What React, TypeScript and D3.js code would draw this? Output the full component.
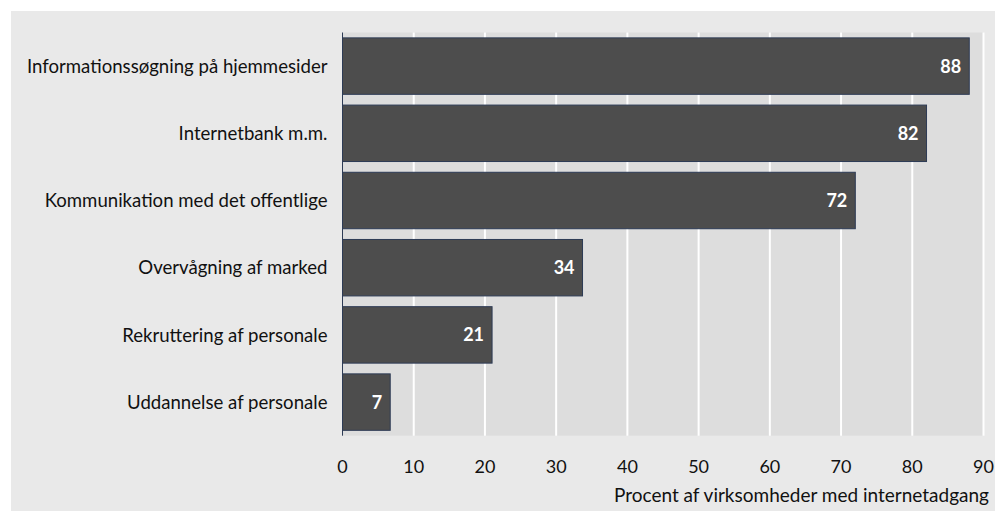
import React, { useEffect, useRef } from 'react';
import * as d3 from 'd3';

// categories and values (percent)
const categories = [
    "Informationssøgning på hjemmesider",
    "Internetbank m.m.",
    "Kommunikation med det offentlige",
    "Overvågning af marked",
    "Rekruttering af personale",
    "Uddannelse af personale",
];
const values = [88, 82, 72, 33.7, 21, 6.7];
const valueLabels = ["88", "82", "72", "34", "21", "7"];
const xTicks = [0, 10, 20, 30, 40, 50, 60, 70, 80, 90];
const xTitle = "Procent af virksomheder med internetadgang";

const App: React.FC = () => {
    const ref = useRef<SVGSVGElement | null>(null);

    useEffect(() => {
        if (!ref.current) return;
        const svg = d3.select(ref.current);
        svg.selectAll("*").remove();

        const height = 511;
        const plot = { left: 342.5, right: 983.5, top: 32.5, bottom: 435.7 };
        const font = "Lato, 'Liberation Sans', sans-serif";

        const x = d3.scaleLinear().domain([0, 90]).range([plot.left, plot.right]);
        const y = d3.scaleBand<string>()
            .domain(categories)
            .range([plot.top, plot.bottom])
            .paddingInner(0.16)
            .paddingOuter(0.08);

        // outer background
        svg.append("rect")
            .attr("x", 11).attr("y", 11)
            .attr("width", 984).attr("height", height - 11)
            .attr("fill", "#e9e9e9");

        // plot area
        svg.append("rect")
            .attr("x", plot.left).attr("y", plot.top)
            .attr("width", plot.right - plot.left).attr("height", plot.bottom - plot.top)
            .attr("fill", "#dddddd");

        // gridlines
        svg.append("g")
            .selectAll("line")
            .data(xTicks.filter(t => t > 0))
            .join("line")
            .attr("x1", d => x(d)).attr("x2", d => x(d))
            .attr("y1", plot.top).attr("y2", plot.bottom)
            .attr("stroke", "#ffffff")
            .attr("stroke-width", 2);

        // bars
        const rows = categories.map((c, i) => ({ c, v: values[i], label: valueLabels[i] }));
        svg.append("g")
            .selectAll("rect")
            .data(rows)
            .join("rect")
            .attr("x", x(0))
            .attr("y", d => y(d.c)!)
            .attr("width", d => x(d.v) - x(0))
            .attr("height", y.bandwidth())
            .attr("fill", "#4d4d4d")
            .attr("stroke", "#2d3b55")
            .attr("stroke-width", 1);

        // value labels
        svg.append("g")
            .selectAll("text")
            .data(rows)
            .join("text")
            .attr("x", d => x(d.v) - 8)
            .attr("y", d => y(d.c)! + y.bandwidth() / 2)
            .attr("dy", "0.36em")
            .attr("text-anchor", "end")
            .attr("fill", "#ffffff")
            .style("font-family", font)
            .style("font-weight", "bold")
            .style("font-size", "18px")
            .text(d => d.label);

        // axis line
        svg.append("line")
            .attr("x1", x(0)).attr("x2", x(0))
            .attr("y1", plot.top).attr("y2", plot.bottom)
            .attr("stroke", "#2d3b55")
            .attr("stroke-width", 1);

        // category labels
        svg.append("g")
            .selectAll("text")
            .data(categories)
            .join("text")
            .attr("x", plot.left - 15)
            .attr("y", d => y(d)! + y.bandwidth() / 2)
            .attr("dy", "0.36em")
            .attr("text-anchor", "end")
            .attr("fill", "#111111")
            .style("font-family", font)
            .style("font-size", "18.6px")
            .text(d => d);

        // x tick labels
        svg.append("g")
            .selectAll("text")
            .data(xTicks)
            .join("text")
            .attr("x", d => x(d))
            .attr("y", 473)
            .attr("text-anchor", "middle")
            .attr("fill", "#111111")
            .style("font-family", font)
            .style("font-size", "18px")
            .text(d => d3.format("d")(d));

        // x title
        svg.append("text")
            .attr("x", 989)
            .attr("y", 502)
            .attr("text-anchor", "end")
            .attr("fill", "#111111")
            .style("font-family", font)
            .style("font-size", "19px")
            .text(xTitle);
    }, []);

    return (
        <svg ref={ref} width={1007} height={511}
            style={{ position: "absolute", left: 0, top: 0, background: "#ffffff" }} />
    );
};

export default App;
